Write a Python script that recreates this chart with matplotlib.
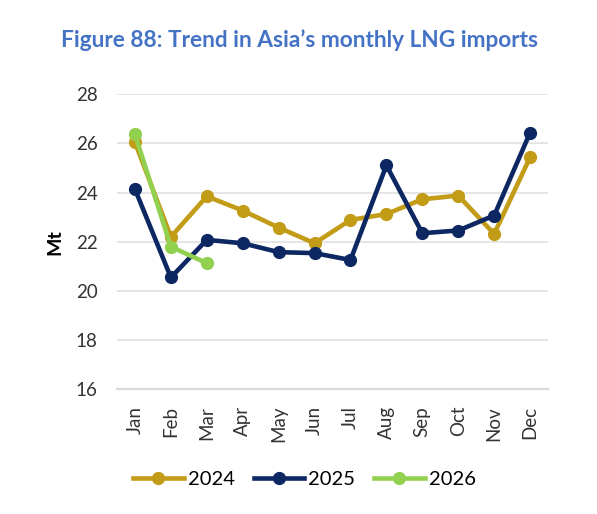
import numpy as np
import matplotlib.pyplot as plt

plt.rcParams['font.family'] = ['Lato', 'DejaVu Sans']

# данные
months = ['Jan', 'Feb', 'Mar', 'Apr', 'May', 'Jun', 'Jul', 'Aug', 'Sep', 'Oct', 'Nov', 'Dec']
imports_2024 = [26.05, 22.2, 23.85, 23.27, 22.58, 21.94, 22.89, 23.13, 23.73, 23.88, 22.32, 25.44]
imports_2025 = [24.14, 20.55, 22.08, 21.94, 21.58, 21.54, 21.26, 25.11, 22.35, 22.46, 23.07, 26.44]
imports_2026 = [26.37, 21.8, 21.13]

fig = plt.figure(figsize=(5.97, 5.14), dpi=100)
ax = fig.add_axes([0.196, 0.2426, 0.722, 0.5739])

x = np.arange(len(months))
ax.plot(x, imports_2024, color='#C29B17', lw=3.3, marker='o', ms=8.5, label='2024', zorder=3)
ax.plot(x, imports_2025, color='#0C2762', lw=3.3, marker='o', ms=8.5, label='2025', zorder=4)
ax.plot(x[:len(imports_2026)], imports_2026, color='#92D050', lw=3.3, marker='o', ms=8.5, label='2026', zorder=5)

ax.set_xlim(-0.5, 11.5)
ax.set_ylim(16, 28)
ax.set_yticks(np.arange(16, 29, 2))
ax.set_xticks(x)
ax.set_xticklabels(months, rotation=90)
ax.grid(axis='y', color='#E3E3E3', lw=1.3)
ax.set_axisbelow(True)
for s in ['top', 'right', 'left']:
    ax.spines[s].set_visible(False)
ax.spines['bottom'].set_color('#D9D9D9')
ax.spines['bottom'].set_linewidth(1.6)
ax.tick_params(axis='both', length=0, labelsize=13.5, colors='#333333')
ax.tick_params(axis='y', pad=14)
ax.tick_params(axis='x', pad=12)

ax.set_ylabel('Mt', fontsize=14, fontweight='bold', labelpad=9)

fig.text(0.502, 0.922, 'Figure 88: Trend in Asia\u2019s monthly LNG imports', ha='center', va='center',
         fontsize=16.3, fontweight='bold', color='#4472C4')

fig.legend(loc='center', bbox_to_anchor=(0.51, 0.068), ncol=3, frameon=False, fontsize=14.5,
           handlelength=2.5, handletextpad=0.2, columnspacing=0.95)

fig.savefig('out.png')
